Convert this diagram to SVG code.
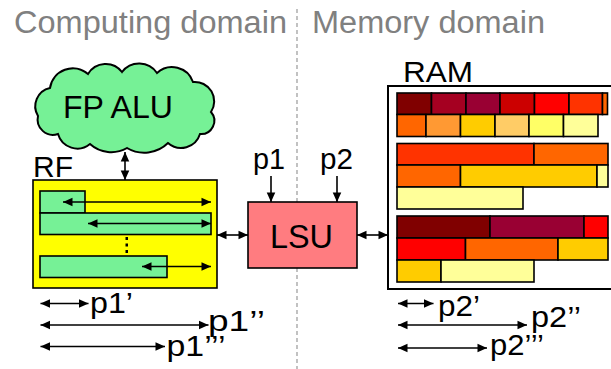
<svg xmlns="http://www.w3.org/2000/svg" width="611" height="369" viewBox="0 0 611 369">
  <defs>
    <marker id="head" viewBox="0 0 10 10" markerUnits="userSpaceOnUse" markerWidth="10" markerHeight="9.5" refX="10" refY="5" orient="auto-start-reverse">
      <path d="M0,0.5 L10,5 L0,9.5 z" fill="#000"/>
    </marker>
    <style>
      .lbl { font-family: "Liberation Sans", Arial, sans-serif; fill: #000; }
      .title { font-family: "Liberation Sans", Arial, sans-serif; fill: #808080; font-size: 31px; }
      .arr { stroke: #000; stroke-width: 1.6; fill: none; marker-start: url(#head); marker-end: url(#head); }
      .one { stroke: #000; stroke-width: 1.6; fill: none; marker-end: url(#head); }
      .reg { fill: #76F196; stroke: #000; stroke-width: 1.6; }
      .brick { stroke: #000; stroke-width: 1.6; }
    </style>
  </defs>
  <rect width="611" height="369" fill="#fff"/>

  <!-- domain headings and divider -->
  <g id="headings">
    <text class="title" x="14" y="33" textLength="273" lengthAdjust="spacingAndGlyphs">Computing domain</text>
    <text class="title" x="312" y="33" textLength="233" lengthAdjust="spacingAndGlyphs">Memory domain</text>
    <line x1="297" y1="9" x2="297" y2="369" stroke="#999" stroke-width="1.2" stroke-dasharray="4 3"/>
  </g>

  <!-- floating-point ALU -->
  <g id="fpalu">
    <path d="M50,88 A23.1,23.1 0 0 1 88,74 A20.6,20.6 0 0 1 122,72 A21.5,21.5 0 0 1 157,73 A22.1,22.1 0 0 1 193,82 A19.4,19.4 0 0 1 211,112 A13.3,13.3 0 0 1 200,134 A19.8,19.8 0 0 1 168,143 A33.9,33.9 0 0 1 127,148 A31.8,31.8 0 0 1 90,144 A20.1,20.1 0 0 1 58,134 A15.4,15.4 0 0 1 38,116 A18.7,18.7 0 0 1 50,88 Z" fill="#76F196" stroke="#000" stroke-width="2"/>
    <text class="lbl" x="63" y="118" font-size="32" textLength="110" lengthAdjust="spacingAndGlyphs">FP ALU</text>
  </g>

  <!-- register file -->
  <g id="rf">
    <text class="lbl" x="33" y="177" font-size="30" textLength="40" lengthAdjust="spacingAndGlyphs">RF</text>
    <rect x="33" y="180" width="184" height="108" fill="#FFFF00" stroke="#000" stroke-width="1.6"/>
    <rect class="reg" x="40" y="191" width="45" height="22"/>
    <rect class="reg" x="40" y="213" width="171" height="21.5"/>
    <rect class="reg" x="40" y="256" width="127" height="21.5"/>
    <g fill="#000">
      <rect x="125.5" y="237" width="2.5" height="3"/>
      <rect x="125.5" y="243.5" width="2.5" height="3"/>
      <rect x="125.5" y="250" width="2.5" height="3"/>
    </g>
  </g>

  <!-- load/store unit -->
  <g id="lsu">
    <rect x="248" y="202" width="109" height="66" fill="#FF7C80" stroke="#000" stroke-width="1.6"/>
    <text class="lbl" x="270" y="247.5" font-size="34" textLength="63" lengthAdjust="spacingAndGlyphs">LSU</text>
    <text class="lbl" x="253" y="168.5" font-size="30" textLength="32" lengthAdjust="spacingAndGlyphs">p1</text>
    <text class="lbl" x="320" y="168.5" font-size="30" textLength="33" lengthAdjust="spacingAndGlyphs">p2</text>
  </g>

  <!-- main memory -->
  <g id="ram">
    <text class="lbl" x="403" y="82" font-size="30" textLength="70" lengthAdjust="spacingAndGlyphs">RAM</text>
    <rect x="388" y="86" width="240" height="203" fill="#fff" stroke="#000" stroke-width="2"/>
    <g class="brick">
      <rect x="397" y="93" width="34.5" height="21.5" fill="#800000"/>
      <rect x="431.5" y="93" width="34.5" height="21.5" fill="#A50021"/>
      <rect x="466" y="93" width="34" height="21.5" fill="#990033"/>
      <rect x="500" y="93" width="34.5" height="21.5" fill="#CC0000"/>
      <rect x="534.5" y="93" width="34.5" height="21.5" fill="#FF0000"/>
      <rect x="569" y="93" width="33.5" height="21.5" fill="#FF3300"/>
      <rect x="602.5" y="93" width="5" height="21.5" fill="#FF6600"/>
      <rect x="397" y="114.5" width="29" height="22" fill="#FF6600"/>
      <rect x="426" y="114.5" width="34.5" height="22" fill="#FF9933"/>
      <rect x="460.5" y="114.5" width="34.5" height="22" fill="#FFCC00"/>
      <rect x="495" y="114.5" width="34" height="22" fill="#FFCC66"/>
      <rect x="529" y="114.5" width="34.5" height="22" fill="#FFFF66"/>
      <rect x="563.5" y="114.5" width="34.5" height="22" fill="#FFFF99"/>

      <rect x="397" y="143.5" width="137" height="21.5" fill="#FF3300"/>
      <rect x="534" y="143.5" width="74" height="21.5" fill="#FF6600"/>
      <rect x="397" y="165" width="63.5" height="22" fill="#FF6600"/>
      <rect x="460.5" y="165" width="136.5" height="22" fill="#FFCC00"/>
      <rect x="597" y="165" width="11" height="22" fill="#FFFF99"/>
      <rect x="397" y="187" width="126" height="22" fill="#FFFF99"/>

      <rect x="397" y="216" width="93" height="22" fill="#800000"/>
      <rect x="490" y="216" width="94" height="22" fill="#990033"/>
      <rect x="584" y="216" width="24" height="22" fill="#FF0000"/>
      <rect x="397" y="238" width="68.5" height="22" fill="#FF0000"/>
      <rect x="465.5" y="238" width="92.5" height="22" fill="#FF6600"/>
      <rect x="558" y="238" width="50" height="22" fill="#FFCC00"/>
      <rect x="397" y="260" width="44" height="22" fill="#FFCC00"/>
      <rect x="441" y="260" width="93" height="22" fill="#FFFF99"/>
    </g>
  </g>

  <!-- connectors -->
  <g id="connectors">
    <line class="arr" x1="125" y1="152" x2="125" y2="180"/>
    <line class="arr" x1="63" y1="202" x2="211" y2="202"/>
    <line class="arr" x1="88" y1="223.5" x2="211" y2="223.5"/>
    <line class="arr" x1="142" y1="266.5" x2="211" y2="266.5"/>
    <line class="arr" x1="217" y1="235" x2="248" y2="235"/>
    <line class="arr" x1="357" y1="235" x2="388" y2="235"/>
    <line class="one" x1="271" y1="176" x2="271" y2="202"/>
    <line class="one" x1="337" y1="176" x2="337" y2="202"/>
  </g>

  <!-- stride measures -->
  <g id="strides-p1">
    <line class="arr" x1="40.5" y1="303.5" x2="88.5" y2="303.5"/>
    <line class="arr" x1="40.5" y1="325" x2="208.5" y2="325"/>
    <line class="arr" x1="40.5" y1="346.5" x2="165" y2="346.5"/>
    <text class="lbl" x="90" y="313" font-size="30" textLength="43" lengthAdjust="spacingAndGlyphs">p1’</text>
    <text class="lbl" x="208" y="331" font-size="30" textLength="57" lengthAdjust="spacingAndGlyphs">p1’’</text>
    <text class="lbl" x="166.5" y="356" font-size="30" textLength="59" lengthAdjust="spacingAndGlyphs">p1’’’</text>
  </g>
  <g id="strides-p2">
    <line class="arr" x1="398" y1="303.5" x2="433.5" y2="303.5"/>
    <line class="arr" x1="398" y1="325" x2="527" y2="325"/>
    <line class="arr" x1="398" y1="348" x2="487" y2="348"/>
    <text class="lbl" x="438" y="315.5" font-size="30" textLength="42" lengthAdjust="spacingAndGlyphs">p2’</text>
    <text class="lbl" x="531" y="326.5" font-size="30" textLength="50" lengthAdjust="spacingAndGlyphs">p2’’</text>
    <text class="lbl" x="490" y="355" font-size="30" textLength="54" lengthAdjust="spacingAndGlyphs">p2’’’</text>
  </g>
</svg>
